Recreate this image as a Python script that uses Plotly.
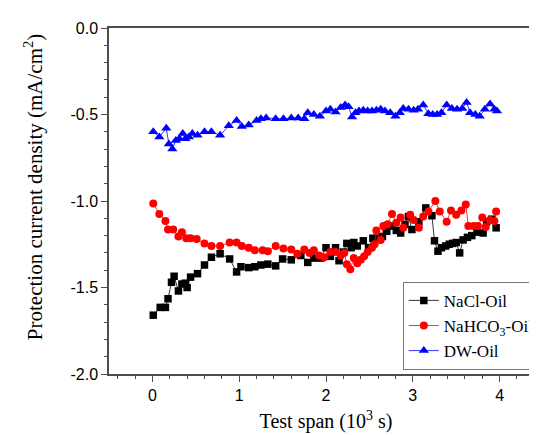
import plotly.graph_objects as go

nacl_t = [0.01, 0.09, 0.15, 0.18, 0.22, 0.25, 0.30, 0.34, 0.38, 0.40, 0.44, 0.52, 0.60, 0.68, 0.78,
          0.89, 0.97, 1.02, 1.11, 1.18, 1.25, 1.33, 1.42, 1.50, 1.60, 1.71, 1.79, 1.86, 1.94, 2.00,
          2.05, 2.11, 2.15, 2.20, 2.24, 2.29, 2.32, 2.36, 2.43, 2.49, 2.54, 2.60, 2.65, 2.70, 2.75,
          2.81, 2.86, 2.91, 2.95, 2.99, 3.07, 3.15, 3.22, 3.25, 3.29, 3.33, 3.38, 3.42, 3.46, 3.50,
          3.54, 3.58, 3.63, 3.68, 3.74, 3.81, 3.85, 3.91, 3.96]
nacl_v = [-1.66, -1.615, -1.615, -1.565, -1.47, -1.435, -1.52, -1.48, -1.475, -1.50, -1.44, -1.42, -1.37, -1.325, -1.305,
          -1.335, -1.41, -1.38, -1.385, -1.38, -1.37, -1.365, -1.375, -1.335, -1.34, -1.315, -1.355, -1.33, -1.33, -1.27,
          -1.32, -1.27, -1.345, -1.295, -1.245, -1.27, -1.24, -1.26, -1.23, -1.27, -1.215, -1.215, -1.205, -1.175, -1.145,
          -1.17, -1.185, -1.135, -1.09, -1.165, -1.12, -1.04, -1.085, -1.23, -1.29, -1.27, -1.26, -1.25, -1.245, -1.24,
          -1.30, -1.225, -1.21, -1.20, -1.18, -1.185, -1.12, -1.105, -1.155]

nahco3_t = [0.01, 0.08, 0.15, 0.18, 0.24, 0.30, 0.34, 0.39, 0.44, 0.51, 0.60, 0.68, 0.78, 0.89, 0.97,
            1.03, 1.11, 1.18, 1.27, 1.33, 1.42, 1.51, 1.60, 1.67, 1.75, 1.81, 1.86, 1.92, 1.98, 2.05,
            2.11, 2.17, 2.21, 2.24, 2.28, 2.32, 2.36, 2.40, 2.44, 2.48, 2.53, 2.56, 2.58, 2.63, 2.66,
            2.71, 2.76, 2.81, 2.86, 2.89, 2.97, 3.01, 3.07, 3.12, 3.18, 3.26, 3.31, 3.39, 3.44, 3.50,
            3.56, 3.61, 3.64, 3.70, 3.75, 3.80, 3.84, 3.89, 3.94, 3.96]
nahco3_v = [-1.015, -1.075, -1.115, -1.165, -1.165, -1.205, -1.18, -1.215, -1.215, -1.22, -1.245, -1.26, -1.26, -1.24, -1.24,
            -1.26, -1.27, -1.285, -1.285, -1.29, -1.26, -1.275, -1.28, -1.305, -1.28, -1.30, -1.285, -1.315, -1.325, -1.295,
            -1.295, -1.315, -1.30, -1.365, -1.395, -1.33, -1.36, -1.34, -1.32, -1.295, -1.27, -1.25, -1.17, -1.225, -1.145,
            -1.135, -1.075, -1.125, -1.095, -1.155, -1.08, -1.11, -1.155, -1.09, -1.06, -1.00, -1.06, -1.12, -1.055, -1.08,
            -1.055, -1.02, -1.145, -1.145, -1.145, -1.095, -1.15, -1.11, -1.115, -1.06]

dw_t = [0.01, 0.08, 0.16, 0.19, 0.23, 0.27, 0.31, 0.35, 0.38, 0.42, 0.46, 0.52, 0.60, 0.68, 0.78,
        0.88, 0.97, 1.03, 1.11, 1.20, 1.25, 1.31, 1.42, 1.51, 1.60, 1.68, 1.75, 1.79, 1.86, 1.93,
        2.00, 2.05, 2.11, 2.17, 2.22, 2.26, 2.30, 2.34, 2.38, 2.43, 2.48, 2.53, 2.58, 2.63, 2.68,
        2.74, 2.80, 2.85, 2.89, 2.95, 3.01, 3.06, 3.12, 3.18, 3.23, 3.28, 3.33, 3.39, 3.45, 3.51,
        3.57, 3.62, 3.66, 3.72, 3.77, 3.83, 3.89, 3.94, 3.97]
dw_v = [-0.60, -0.63, -0.58, -0.67, -0.70, -0.65, -0.64, -0.61, -0.64, -0.63, -0.61, -0.62, -0.60, -0.60, -0.62,
        -0.565, -0.535, -0.57, -0.56, -0.535, -0.525, -0.52, -0.525, -0.525, -0.52, -0.52, -0.525, -0.49, -0.50, -0.51,
        -0.48, -0.47, -0.485, -0.46, -0.445, -0.455, -0.515, -0.49, -0.48, -0.475, -0.48, -0.48, -0.475, -0.47, -0.48,
        -0.49, -0.51, -0.49, -0.465, -0.47, -0.475, -0.47, -0.445, -0.495, -0.50, -0.50, -0.49, -0.445, -0.465, -0.47,
        -0.465, -0.43, -0.49, -0.50, -0.51, -0.47, -0.44, -0.47, -0.48]

y_tickvals = [0.0, -0.5, -1.0, -1.5, -2.0]
y_ticktext = ["0.0", "-0.5", "-1.0", "-1.5", "-2.0"]
x_tickvals = [0, 1, 2, 3, 4]
x_ticktext = ["0", "1", "2", "3", "4"]

serif = "Liberation Serif"
sans = "Liberation Sans"

fig = go.Figure()
fig.add_trace(go.Scatter(x=nacl_t, y=nacl_v, mode="lines+markers", name="NaCl-Oil",
                         line=dict(color="black", width=0.8),
                         marker=dict(symbol="square", size=7.5, color="black")))
fig.add_trace(go.Scatter(x=nahco3_t, y=nahco3_v, mode="lines+markers", name="NaHCO<sub>3</sub>-Oil",
                         line=dict(color="red", width=0.8),
                         marker=dict(symbol="circle", size=8, color="red")))
fig.add_trace(go.Scatter(x=dw_t, y=dw_v, mode="lines+markers", name="DW-Oil",
                         line=dict(color="blue", width=0.8),
                         marker=dict(symbol="triangle-up", size=9, color="blue")))

axis_common = dict(showline=True, linecolor="#4d4d4d", linewidth=1.5, mirror=True,
                   ticks="outside", tickcolor="#4d4d4d", tickwidth=1.2, ticklen=6,
                   showgrid=False, zeroline=False,
                   tickfont=dict(family=sans, size=16, color="black"))

fig.update_xaxes(range=[-0.5, 4.5], tickvals=x_tickvals, ticktext=x_ticktext,
                 minor=dict(dtick=0.2, tick0=0, ticks="outside", ticklen=3, tickcolor="#4d4d4d"),
                 title=dict(text="Test span (10<sup>3</sup> s)", font=dict(family=serif, size=20, color="black"),
                            standoff=11),
                 **axis_common)
fig.update_yaxes(range=[-2.0, 0.0], tickvals=y_tickvals, ticktext=y_ticktext,
                 minor=dict(dtick=0.1, tick0=0, ticks="outside", ticklen=3, tickcolor="#4d4d4d"),
                 **axis_common)

fig.add_annotation(text="Protection current density (mA/cm<sup>2</sup>)", textangle=-90,
                   xref="paper", yref="paper", x=-0.1735, y=0.542,
                   xanchor="center", yanchor="middle", showarrow=False,
                   font=dict(family=serif, size=21, color="black"))

fig.update_layout(width=537, height=435, plot_bgcolor="white", paper_bgcolor="white",
                  margin=dict(l=101, r=0, t=20, b=69),
                  legend=dict(x=0.677, y=0.012, xanchor="left", yanchor="bottom",
                              bgcolor="white", bordercolor="#777777", borderwidth=1,
                              font=dict(family=serif, size=17, color="black"),
                              tracegroupgap=0, itemsizing="trace"),
                  showlegend=True)

fig.write_html("out.html")
